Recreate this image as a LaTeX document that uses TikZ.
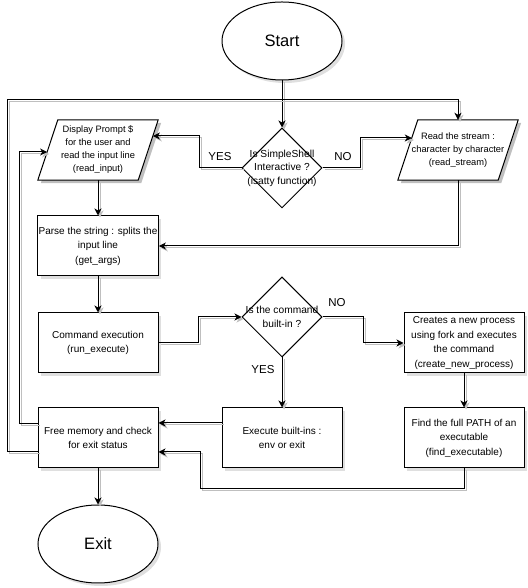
\documentclass[tikz,border=0pt]{standalone}
\usepackage{fontspec}
\setmainfont{Liberation Sans}
\usetikzlibrary{shapes.geometric,arrows.meta,shadows,backgrounds}

% slanted input/output frame drawn around an invisible rectangular node
\newcommand\paraframe[1]{%
  \fill[black!25] ([xshift=3pt,yshift=-3pt]#1.south west) -- ([xshift=23pt,yshift=-3pt]#1.north west)
    -- ([xshift=3pt,yshift=-3pt]#1.north east) -- ([xshift=-17pt,yshift=-3pt]#1.south east) -- cycle;
  \draw[line width=1pt,fill=white] (#1.south west) -- ([xshift=20pt]#1.north west)
    -- (#1.north east) -- ([xshift=-20pt]#1.south east) -- cycle;}

\begin{document}
\begin{tikzpicture}[x=1pt,y=1pt,
  font=\fontsize{10}{14.5}\selectfont,
  boxshadow/.style={drop shadow={opacity=0.25,shadow xshift=3pt,shadow yshift=-3pt}},
  box/.style={draw,fill=white,line width=1pt,minimum width=120pt,minimum height=60pt,
    align=center,inner sep=1pt,boxshadow},
  iobox/.style={minimum width=120pt,minimum height=60pt,align=center,inner sep=1pt,
    font=\fontsize{9.3}{13}\selectfont},
  terminal/.style={ellipse,draw,fill=white,line width=1pt,minimum width=120pt,
    minimum height=78pt,font=\fontsize{16.5}{18}\selectfont,boxshadow},
  decision/.style={diamond,draw,fill=white,line width=1pt,minimum width=80pt,
    minimum height=80pt,inner sep=0pt},
  dtext/.style={align=center,font=\fontsize{10.2}{13.5}\selectfont},
  conn/.style={line width=1pt,-{Stealth[length=7pt,width=7pt,inset=2pt]},
    preaction={draw=black!25,line width=1pt,transform canvas={shift={(2pt,-2pt)}}}},
  answer/.style={font=\fontsize{11.5}{13}\selectfont}]

\useasboundingbox (0,0) rectangle (527,588);

% shapes
\node[terminal] (start) at (282,547) {Start};
\node[decision,label={[dtext]center:Is SimpleShell\\Interactive ?\\(isatty function)}] (dec1) at (282,420) {};
\node[iobox] (disp) at (98,438) {Display Prompt \$\\for the user and\\read the input line\\(read\_input)};
\node[iobox] (rstr) at (458,438) {Read the stream :\\character by character\\(read\_stream)};
\begin{pgfonlayer}{background}
  \paraframe{disp}
  \paraframe{rstr}
\end{pgfonlayer}
\node[box] (parse) at (98,342) {Parse the string : splits the\\input line\\(get\_args)};
\node[box] (cmd) at (98,245) {Command execution\\(run\_execute)};
\node[decision,label={[dtext]center:Is the command\\built-in ?}] (dec2) at (282,271) {};
\node[box] (create) at (464,245) {Creates a new process\\using fork and executes\\the command\\(create\_new\_process)};
\node[box] (builtin) at (282,150) {Execute built-ins :\\env or exit};
\node[box] (find) at (464,150) {Find the full PATH of an\\executable\\(find\_executable)};
\node[box] (free) at (98,150) {Free memory and check\\for exit status};
\node[terminal] (exitn) at (98,44) {Exit};

% connectors
\draw[conn] (start.south) -- (dec1.north);
\draw[conn] (dec1.west) -- ++(-42,0) |- ([xshift=-5.33pt,yshift=14pt]disp.east);
\draw[conn] (dec1.east) -- ++(38,0) |- ([xshift=14pt,yshift=12pt]rstr.west);
\draw[conn] (disp.south) -- (parse.north);
\draw[conn] (rstr.south) |- (parse.east);
\draw[conn] (parse.south) -- (cmd.north);
\draw[conn] (cmd.east) -- ++(40,0) |- (dec2.west);
\draw[conn] (dec2.east) -- ++(41,0) |- (create.west);
\draw[conn] (dec2.south) -- (builtin.north);
\draw[conn] (create.south) -- (find.north);
\draw[conn] ([yshift=15pt]builtin.west) -- ([yshift=15pt]free.east);
\draw[conn] (find.south) -- ++(0,-20) -- ++(-264,0) |- ([yshift=-14pt]free.east);
\draw[conn] (free.south) -- (exitn.north);
\draw[conn] ([yshift=14pt]free.west) -- ++(-18,0) |- ([xshift=9.33pt,yshift=-2pt]disp.west);
\draw[conn] ([yshift=-14pt]free.west) -| (7,488) -| (rstr.north);

% answers on the decision branches
\node[answer] (yes1) at (220,431) {YES};
\node[answer] (no1) at (343,431) {NO};
\node[answer] (no2) at (337,285) {NO};
\node[answer] (yes2) at (263,218) {YES};
\end{tikzpicture}
\end{document}
